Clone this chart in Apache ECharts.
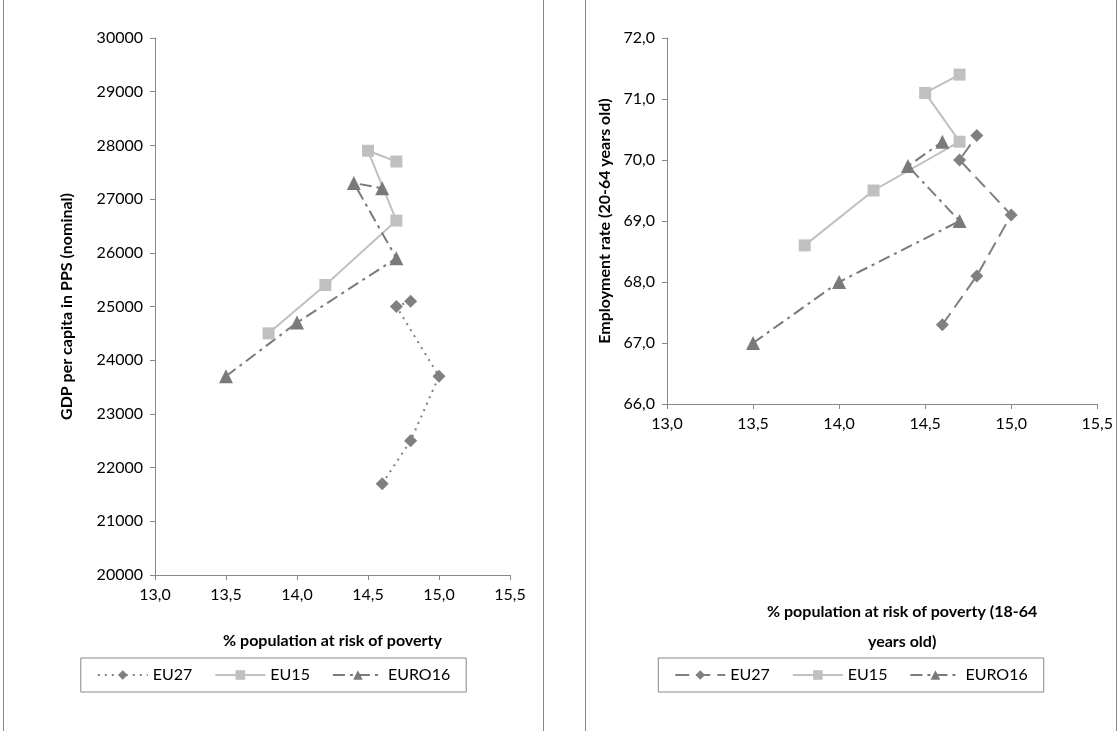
<!DOCTYPE html>
<html><head><meta charset="utf-8">
<script src="https://cdn.jsdelivr.net/npm/echarts@6/dist/echarts.min.js"></script>
<style>
body{margin:0;background:#fff;}
.box{position:absolute;top:-2px;height:740px;border:1px solid #888;box-sizing:border-box;}
</style></head><body>
<div id="c1" class="box" style="left:3px;width:541px"></div>
<div id="c2" class="box" style="left:585px;width:532px"></div>
<script>
// left chart: poverty vs GDP
const gdpEU27 = [[14.6,21700],[14.8,22500],[15.0,23700],[14.7,25000],[14.8,25100]];
const gdpEU15 = [[13.8,24500],[14.2,25400],[14.7,26600],[14.5,27900],[14.7,27700]];
const gdpEURO16 = [[13.5,23700],[14.0,24700],[14.7,25900],[14.4,27300],[14.6,27200]];
// right chart: poverty (18-64) vs employment
const empEU27 = [[14.6,67.3],[14.8,68.1],[15.0,69.1],[14.7,70.0],[14.8,70.4]];
const empEU15 = [[13.8,68.6],[14.2,69.5],[14.7,70.3],[14.5,71.1],[14.7,71.4]];
const empEURO16 = [[13.5,67.0],[14.0,68.0],[14.7,69.0],[14.4,69.9],[14.6,70.3]];

const font = 'Lato, "Open Sans", sans-serif';
const comma = (d) => v => v.toFixed(d).replace('.', ',');
const titleStyle = {fontWeight:'bold',fontSize:16,fontFamily:font,color:'#000'};

function series(name, data, color, lineType, symbol, size) {
  return {name, type:'line', data, symbol, symbolSize:size, color,
    lineStyle:{color, width:2, type:lineType}, itemStyle:{color}};
}
function axisBase() {
  return {axisLine:{show:true,lineStyle:{color:'#888'}}, axisTick:{show:true,lineStyle:{color:'#888'}},
    splitLine:{show:false}, axisLabel:{color:'#000',fontSize:16,fontFamily:font,margin:12}};
}
function legend() {
  return {bottom:45, left:'center', itemGap:22, itemWidth:50, itemHeight:12,
    borderColor:'#888', borderWidth:1, padding:[9,16], textStyle:{fontSize:16,fontFamily:font,color:'#000'}};
}

const c1 = echarts.init(document.getElementById('c1'));
c1.setOption({
  animation:false,
  grid:{left:151, right:33, top:39, bottom:162},
  xAxis:Object.assign(axisBase(),{type:'value',min:13,max:15.5,interval:0.5,
    axisLabel:{color:'#000',fontSize:16,fontFamily:font,margin:12,formatter:comma(1)},
    name:'% population at risk of poverty', nameLocation:'middle', nameGap:58, nameTextStyle:titleStyle}),
  yAxis:Object.assign(axisBase(),{type:'value',min:20000,max:30000,interval:1000,
    axisLabel:{color:'#000',fontSize:16,fontFamily:font,margin:12,formatter:v => String(v)},
    name:'GDP per capita in PPS (nominal)', nameLocation:'middle', nameGap:80, nameTextStyle:titleStyle}),
  legend:legend(),
  series:[
    series('EU27', gdpEU27, '#808080', [2,5], 'diamond', 13),
    series('EU15', gdpEU15, '#c0c0c0', 'solid', 'rect', 12),
    series('EURO16', gdpEURO16, '#7a7a7a', [12,5,3,5], 'triangle', 14)
  ]
});

const c2 = echarts.init(document.getElementById('c2'));
c2.setOption({
  animation:false,
  grid:{left:81, right:6, top:39, bottom:333},
  xAxis:Object.assign(axisBase(),{type:'value',min:13,max:15.5,interval:0.5,
    axisLabel:{color:'#000',fontSize:16,fontFamily:font,margin:12,formatter:comma(1)},
    name:'% population at risk of poverty (18-64\nyears old)', nameLocation:'middle', nameGap:193,
    nameTextStyle:Object.assign({lineHeight:30,align:'center',padding:[0,0,0,40]},titleStyle)}),
  yAxis:Object.assign(axisBase(),{type:'value',min:66,max:72,interval:1,
    axisLabel:{color:'#000',fontSize:16,fontFamily:font,margin:12,formatter:comma(1)},
    name:'Employment rate (20-64 years old)', nameLocation:'middle', nameGap:52, nameTextStyle:titleStyle}),
  legend:legend(),
  series:[
    series('EU27', empEU27, '#808080', [14,7], 'diamond', 13),
    series('EU15', empEU15, '#c0c0c0', 'solid', 'rect', 12),
    series('EURO16', empEURO16, '#7a7a7a', [12,5,3,5], 'triangle', 14)
  ]
});
</script></body></html>
